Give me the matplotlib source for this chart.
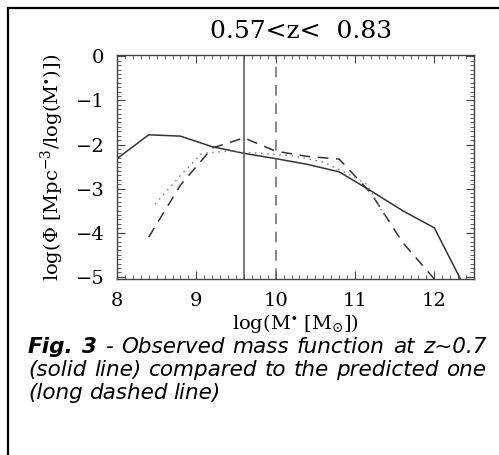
import numpy as np
import matplotlib.pyplot as plt
from matplotlib.ticker import MultipleLocator
from matplotlib.lines import Line2D

# observed mass function (solid)
obs_logm = [8.0, 8.2, 8.4, 8.8, 9.2, 9.6, 10.0, 10.4, 10.8, 11.2, 11.6, 12.0, 12.4]
obs_phi = [-2.32, -2.05, -1.78, -1.81, -2.05, -2.2, -2.32, -2.45, -2.62, -3.05, -3.5, -3.89, -5.3]

# predicted mass function (long dashed)
pred_logm = [8.4, 8.8, 9.2, 9.6, 10.0, 10.4, 10.8, 11.2, 11.6, 12.0]
pred_phi = [-4.1, -2.92, -2.08, -1.85, -2.15, -2.27, -2.33, -3.1, -4.22, -5.05]

# dotted curve
dot_logm = [8.48, 8.8, 9.07, 9.4, 9.8, 10.2, 10.6, 10.9, 11.15, 11.4]
dot_phi = [-3.35, -2.7, -2.2, -2.15, -2.2, -2.25, -2.4, -2.65, -2.9, -3.7]

mass_limit_obs = 9.6
mass_limit_pred = 10.0

caption_bold = "Fig. 3"
caption = ["- Observed mass function at z~0.7",
           "(solid line) compared to the predicted one",
           "(long dashed line)"]

W, H = 499, 455
plt.rcParams['font.family'] = 'DejaVu Serif'
plt.rcParams['mathtext.fontset'] = 'dejavuserif'

fig = plt.figure(figsize=(W/100, H/100), dpi=100)

# frame around the figure (open on right/bottom like the crop)
fig.add_artist(Line2D([8/W, 8/W], [0, 1-8/H], transform=fig.transFigure, color='k', lw=1.6))
fig.add_artist(Line2D([8/W, 1], [1-8/H, 1-8/H], transform=fig.transFigure, color='k', lw=1.6))

ax = fig.add_axes([117/W, 1-279/H, 357/W, 224/H])

ax.plot(obs_logm, obs_phi, color='#333333', lw=1.1, ls='-')
ax.plot(pred_logm, pred_phi, color='#333333', lw=1.1, ls=(0, (7, 5)))
ax.plot(dot_logm, dot_phi, color='#888888', lw=1.1, ls=(0, (1, 3)))
ax.axvline(mass_limit_obs, color='#555555', lw=1.1)
ax.axvline(mass_limit_pred, color='#666666', lw=1.1, ls=(0, (7, 5)))

ax.set_xlim(8, 12.5)
ax.set_ylim(-5.05, 0.03)
ax.xaxis.set_major_locator(MultipleLocator(1))
ax.xaxis.set_minor_locator(MultipleLocator(0.1))
ax.yaxis.set_major_locator(MultipleLocator(1))
ax.yaxis.set_minor_locator(MultipleLocator(0.1))
ax.tick_params(which='both', direction='in', top=True, right=True, color='#444444')
ax.tick_params(which='major', length=6, width=0.8, labelsize=14, pad=9)
ax.tick_params(which='minor', length=3, width=0.6)
for s in ax.spines.values():
    s.set_color('#444444')
    s.set_linewidth(1.0)
ax.set_yticks([0, -1, -2, -3, -4, -5])
ax.set_yticklabels(['0', '\u22121', '\u22122', '\u22123', '\u22124', '\u22125'])

ax.set_xlabel(r'log(M$^{\bullet}$ [M$_{\odot}$])', fontsize=14, labelpad=2)
ax.set_ylabel(r'log($\Phi$ [Mpc$^{-3}$/log(M$^{\bullet}$)])', fontsize=14, labelpad=7)
fig.text(301/W, 1 - 32/H, '0.57<z<  0.83', fontsize=18, ha='center', va='center')

# caption, justified like the printed figure
cap_font = dict(family='DejaVu Sans', style='oblique', fontsize=15.5)
x0, x1 = 28, 486
line_y = [347, 370, 393]
renderer = fig.canvas.get_renderer()


def place_words(words, y, justify):
    items = []
    for w, bold in words:
        t = fig.text(0, 1 - y/H, w, va='center', weight='bold' if bold else 'normal', **cap_font)
        bb = t.get_window_extent(renderer)
        items.append((t, bb.width))
    total = sum(wd for _, wd in items)
    space = (x1 - x0 - total) / (len(items) - 1) if justify else 6.0
    x = x0
    for t, wd in items:
        t.set_x(x / W)
        x += wd + space


words1 = [(w, True) for w in caption_bold.split()] + [(w, False) for w in caption[0].split()]
place_words(words1, line_y[0], True)
place_words([(w, False) for w in caption[1].split()], line_y[1], True)
place_words([(w, False) for w in caption[2].split()], line_y[2], False)

fig.savefig('out.png', dpi=100)
